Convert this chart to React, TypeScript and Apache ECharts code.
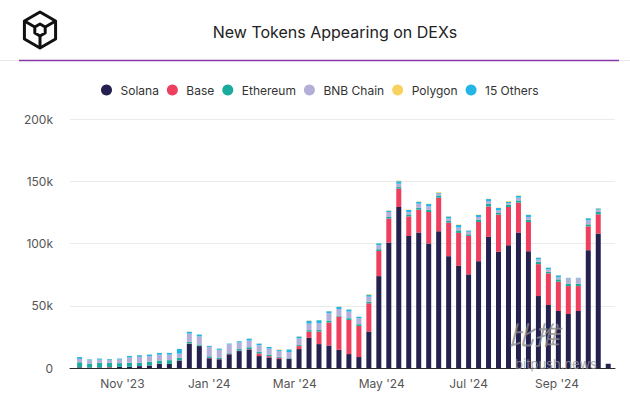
import React, { useEffect, useRef } from 'react';
import * as echarts from 'echarts';

// Weekly buckets (week start dates)
const weeks = [
  '2023-10-02', '2023-10-09', '2023-10-16', '2023-10-23', '2023-10-30',
  '2023-11-06', '2023-11-13', '2023-11-20', '2023-11-27',
  '2023-12-04', '2023-12-11', '2023-12-18', '2023-12-25',
  '2024-01-01', '2024-01-08', '2024-01-15', '2024-01-22', '2024-01-29',
  '2024-02-05', '2024-02-12', '2024-02-19', '2024-02-26',
  '2024-03-04', '2024-03-11', '2024-03-18', '2024-03-25',
  '2024-04-01', '2024-04-08', '2024-04-15', '2024-04-22', '2024-04-29',
  '2024-05-06', '2024-05-13', '2024-05-20', '2024-05-27',
  '2024-06-03', '2024-06-10', '2024-06-17', '2024-06-24',
  '2024-07-01', '2024-07-08', '2024-07-15', '2024-07-22', '2024-07-29',
  '2024-08-05', '2024-08-12', '2024-08-19', '2024-08-26',
  '2024-09-02', '2024-09-09', '2024-09-16', '2024-09-23', '2024-09-30',
  '2024-10-07',
];

// Values in thousands of new tokens
const solana = [
  0.5, 0.3, 0.4, 0.4, 0.8, 1.0, 1.5, 2.0, 3.5, 3.2, 6.0, 19.4, 17.6, 7.8, 7.0, 11.0, 13.6, 14.9,
  9.6, 8.5, 7.2, 7.2, 15.2, 24.2, 19.2, 18.1, 14.6, 11.2, 8.8, 29.3, 73.8, 100.8, 129.3, 106.0,
  108.8, 100.0, 109.8, 89.8, 82.0, 75.2, 85.8, 105.3, 93.3, 98.6, 108.8, 93.8, 57.8, 50.6, 45.8,
  43.4, 45.8, 94.6, 108.0, 3.4,
];
const base = [
  0.1, 0.1, 0.1, 0.4, 0.1, 0.1, 0.1, 0.1, 0.1, 0.1, 0.1, 0.3, 0.3, 0.3, 0.2, 0.3, 0.3, 0.3,
  2.1, 1.0, 1.0, 0.3, 2.4, 5.0, 10.1, 18.4, 26.7, 27.4, 25.0, 22.7, 20.2, 19.2, 14.7, 15.8,
  18.4, 25.3, 27.0, 27.0, 26.5, 30.9, 31.5, 24.5, 29.9, 30.7, 24.0, 23.5, 25.6, 25.4, 23.5,
  22.4, 20.0, 19.2, 15.4, 0,
];
const ethereum = [
  4.0, 3.2, 3.8, 3.4, 3.0, 3.2, 2.5, 3.0, 2.4, 3.0, 2.0, 1.3, 1.0, 1.3, 1.0, 0.6, 1.3, 1.5,
  1.3, 1.3, 0.8, 0.5, 0.8, 1.2, 1.3, 1.6, 0.8, 1.4, 1.4, 1.3, 1.4, 1.3, 1.3, 1.6,
  1.6, 1.9, 1.8, 1.3, 2.1, 1.3, 1.9, 2.2, 1.3, 1.9, 1.8, 1.9, 1.9, 1.3, 1.9,
  2.0, 2.0, 1.6, 1.9, 0,
];
const bnbChain = [
  2.7, 2.6, 2.4, 2.2, 2.9, 4.1, 4.9, 4.4, 4.7, 4.4, 3.4, 6.6, 6.5, 7.6, 6.4, 7.2, 5.3, 5.3,
  5.3, 4.8, 4.5, 4.8, 5.3, 5.2, 5.4, 5.9, 5.3, 5.3, 4.8, 4.0, 3.2, 4.0, 2.7, 1.9,
  3.2, 2.6, 1.4, 1.9, 2.2, 2.0, 2.1, 2.1, 2.1, 1.3, 2.2, 2.1, 1.9, 1.9, 1.6,
  4.2, 4.2, 3.2, 1.9, 0,
];
const polygon = [
  0.1, 0.1, 0.1, 0.1, 0.1, 0.1, 0.1, 0.1, 0.1, 0.1, 0.1, 0.2, 0.1, 0.1, 0.1, 0.1, 0.1, 0.1,
  0.1, 0.1, 0.5, 0.1, 0.3, 0.3, 0.2, 0.2, 0.2, 0.2, 0.1, 0.6, 0.3, 0.3, 0.6, 0.3,
  0.3, 0.3, 0.6, 0.3, 0.3, 0.2, 0.3, 0.3, 0.3, 0.6, 0.3, 0.2, 0.2, 0.2, 0.2,
  0.1, 0.1, 0.2, 0.3, 0,
];
const others = [
  1.5, 0.7, 0.9, 0.7, 0.8, 1.3, 1.3, 1.3, 1.4, 1.4, 3.8, 1.5, 1.5, 0.8, 1.0, 0.5, 1.0, 1.6,
  1.3, 1.3, 0.9, 2.1, 1.6, 2.3, 2.4, 1.6, 1.7, 1.7, 1.2, 1.5, 1.6, 1.0, 2.0, 1.6,
  1.5, 1.9, 0.7, 1.7, 2.1, 1.0, 1.6, 1.6, 1.9, 0.9, 1.5, 1.7, 1.4, 1.4, 1.6,
  0.4, 0.4, 1.7, 1.0, 0,
];

const legendNames = ['Solana', 'Base', 'Ethereum', 'BNB Chain', 'Polygon', '15 Others'];
const monthNames = ['Jan', 'Feb', 'Mar', 'Apr', 'May', 'Jun', 'Jul', 'Aug', 'Sep', 'Oct', 'Nov', 'Dec'];
const yTicks = [0, 50, 100, 150, 200];

const FONT = 'Inter, "Noto Sans", sans-serif';

export default function App() {
  const ref = useRef<HTMLDivElement>(null);

  useEffect(() => {
    if (!ref.current) return;
    const chart = echarts.init(ref.current, undefined, { renderer: 'svg' });

    const defs = [
      { name: 'Solana', data: solana, color: '#25214f' },
      { name: 'Base', data: base, color: '#ee3f5e' },
      { name: 'Ethereum', data: ethereum, color: '#1bab9c' },
      { name: 'BNB Chain', data: bnbChain, color: '#b4afd9' },
      { name: '15 Others', data: others, color: '#22b5e6' },
      { name: 'Polygon', data: polygon, color: '#f7d25e' },
    ];

    const hex = (cx: number, cy: number, r: number) => {
      const pts: number[][] = [];
      for (let k = 0; k < 6; k++) {
        const a = (Math.PI / 180) * (-90 + 60 * k);
        pts.push([cx + r * Math.cos(a), cy + r * Math.sin(a)]);
      }
      return pts;
    };
    const outer = hex(40, 30, 18);
    const inner = hex(40, 30, 6);

    chart.setOption({
      animation: false,
      textStyle: { fontFamily: FONT },
      grid: { left: 70, right: 15, top: 119, bottom: 31 },
      legend: {
        data: legendNames,
        top: 79,
        left: 96,
        icon: 'circle',
        itemWidth: 18,
        itemHeight: 11,
        itemGap: 8,
        textStyle: { fontSize: 12, color: '#333', fontFamily: FONT },
        selectedMode: false,
      },
      xAxis: {
        type: 'time',
        min: new Date(2023, 8, 27).getTime(),
        max: new Date(2024, 9, 10).getTime(),
        splitNumber: 5,
        axisLine: { show: true, lineStyle: { color: '#2b2b2b', width: 1 } },
        axisTick: { show: false },
        splitLine: { show: false },
        axisLabel: {
          color: '#555',
          fontSize: 12,
          margin: 9,
          fontFamily: FONT,
          showMinLabel: false,
          showMaxLabel: false,
          hideOverlap: false,
          formatter: (value: number) => {
            const d = new Date(value);
            const m = d.getMonth();
            if (m % 2 !== 0 || d.getDate() !== 1) return '';
            return `${monthNames[m]} '${String(d.getFullYear()).slice(2)}`;
          },
        },
      },
      yAxis: {
        type: 'value',
        min: yTicks[0],
        max: yTicks[yTicks.length - 1],
        interval: 50,
        axisLine: { show: false },
        axisTick: { show: false },
        splitLine: { lineStyle: { color: '#ebebeb', width: 1 } },
        axisLabel: {
          color: '#555',
          fontSize: 12,
          margin: 17,
          fontFamily: FONT,
          formatter: (v: number) => (v === 0 ? '0' : `${v}k`),
        },
      },
      series: defs.map((s) => ({
        type: 'bar',
        name: s.name,
        stack: 'total',
        barWidth: 5,
        itemStyle: { color: s.color },
        emphasis: { disabled: true },
        data: weeks.map((w, i) => [w, s.data[i]]),
      })),
      graphic: [
        { type: 'line', shape: { x1: 0, y1: 60.5, x2: 630, y2: 60.5 }, style: { stroke: '#e6e6e6', lineWidth: 1 } },
        { type: 'line', shape: { x1: 19, y1: 60.5, x2: 619, y2: 60.5 }, style: { stroke: '#8a3aa6', lineWidth: 1.5 } },
        {
          type: 'polygon',
          shape: { points: outer },
          style: { fill: 'none', stroke: '#111', lineWidth: 3, lineJoin: 'round' },
        },
        {
          type: 'polygon',
          shape: { points: inner },
          style: { fill: 'none', stroke: '#111', lineWidth: 3, lineJoin: 'round' },
        },
        { type: 'line', shape: { x1: outer[5][0], y1: outer[5][1], x2: inner[5][0], y2: inner[5][1] }, style: { stroke: '#111', lineWidth: 3 } },
        { type: 'line', shape: { x1: outer[1][0], y1: outer[1][1], x2: inner[1][0], y2: inner[1][1] }, style: { stroke: '#111', lineWidth: 3 } },
        { type: 'line', shape: { x1: outer[3][0], y1: outer[3][1], x2: inner[3][0], y2: inner[3][1] }, style: { stroke: '#111', lineWidth: 3 } },
        {
          type: 'text',
          x: 335,
          y: 32,
          style: {
            text: 'New Tokens Appearing on DEXs',
            fill: '#222',
            fontSize: 16,
            fontFamily: FONT,
            align: 'center',
            verticalAlign: 'middle',
          },
        },
        {
          type: 'text',
          x: 534,
          y: 333,
          z: 100,
          style: {
            text: '比推',
            fill: 'rgba(140,140,140,0.8)',
            fontSize: 26,
            fontStyle: 'italic',
            fontFamily: '"Noto Sans CJK SC", sans-serif',
            align: 'center',
            verticalAlign: 'middle',
          },
        },
        {
          type: 'text',
          x: 556,
          y: 364,
          z: 100,
          style: {
            text: 'bitpush.news',
            fill: 'rgba(150,150,150,0.8)',
            fontSize: 13,
            fontFamily: FONT,
            align: 'center',
            verticalAlign: 'middle',
          },
        },
      ],
    });

    return () => chart.dispose();
  }, []);

  return (
    <div
      ref={ref}
      style={{ position: 'fixed', left: 0, top: 0, width: 630, height: 399, background: '#fff' }}
    />
  );
}
